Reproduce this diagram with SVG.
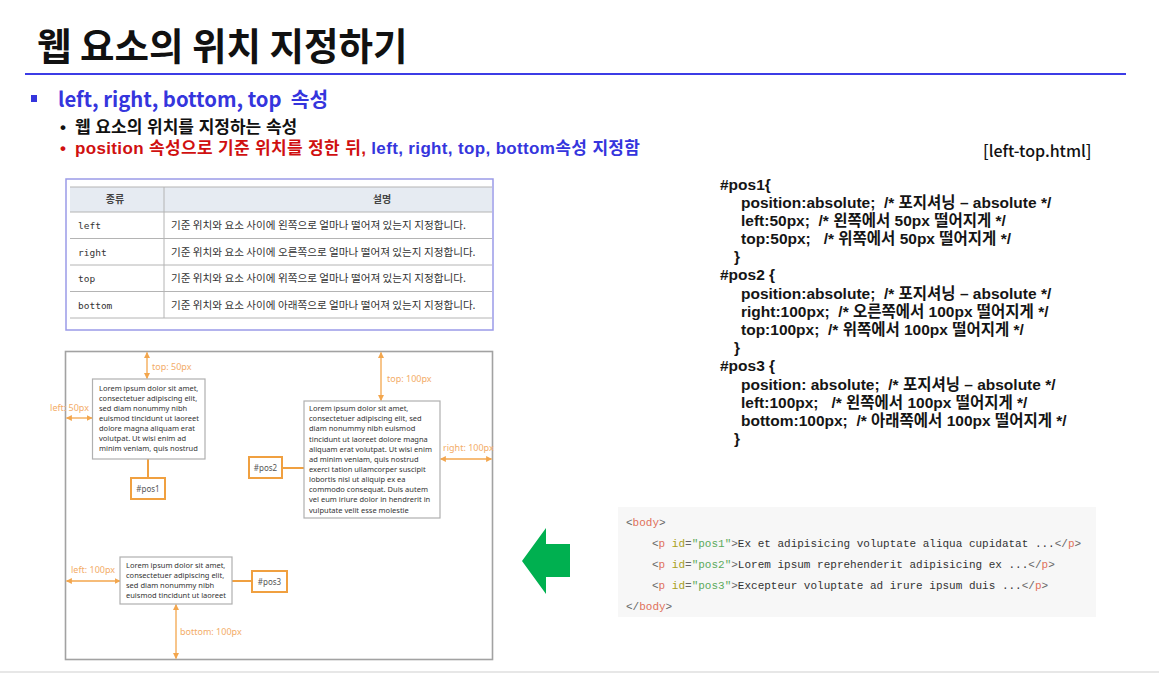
<svg xmlns="http://www.w3.org/2000/svg" width="1159" height="673" viewBox="0 0 1159 673">
  <defs>
    <style>
      .kr { font-family: "Noto Sans CJK KR", "Noto Sans", sans-serif; }
      .title { font-size: 37.5px; font-weight: 700; fill: #111; }
      .h1 { font-size: 20.3px; font-weight: 700; fill: #3535dd; }
      .sub { font-family: "Liberation Sans", "Noto Sans CJK KR", sans-serif; font-size: 17px; font-weight: 700; }
      .css { font-family: "Liberation Sans", "Noto Sans CJK KR", sans-serif; font-size: 15.5px; font-weight: 700; fill: #151515; }
      .th { font-size: 10px; font-weight: 700; fill: #444; }
      .td { font-size: 10.6px; fill: #333; }
      .tm { font-family: "DejaVu Sans Mono", "Liberation Mono", monospace; font-size: 9.5px; fill: #333; }
      .grid { stroke: #b4b4b4; stroke-width: 1; }
      .lorem { font-family: "Noto Sans", "Open Sans", sans-serif; font-size: 7.5px; fill: #333; }
      .box { fill: #fff; stroke: #b0b0b0; stroke-width: 1.2; }
      .idbox { fill: #fff; stroke: #f0a040; stroke-width: 2; }
      .idtxt { font-family: "Noto Sans", sans-serif; font-size: 8px; fill: #555; text-anchor: middle; }
      .dim { stroke: #f3a64d; stroke-width: 1.3; marker-start: url(#ah); marker-end: url(#ah); }
      .link { stroke: #f0a040; stroke-width: 2; fill: none; }
      .dlab { font-family: "Noto Sans", "Open Sans", sans-serif; font-size: 9px; fill: #f3ac68; }
      .code { font-family: "Liberation Mono", "DejaVu Sans Mono", monospace; font-size: 11px; fill: #333; }
      .pun { fill: #666; }
      .tag { fill: #e0705a; }
      .att { fill: #a8a020; }
      .val { fill: #5caa5c; }
    </style>
    <marker id="ah" viewBox="0 0 10 10" refX="9" refY="5" markerWidth="6" markerHeight="6" markerUnits="userSpaceOnUse" orient="auto-start-reverse">
      <path d="M0,0 L10,5 L0,10 z" fill="#f3a64d"/>
    </marker>
  </defs>

  <rect width="1159" height="673" fill="#fff"/>

  <!-- heading -->
  <g id="heading">
    <text class="kr title" x="37" y="60">웹 요소의 위치 지정하기</text>
    <line x1="25" y1="74" x2="1126" y2="74" stroke="#3c3ce6" stroke-width="2"/>
    <rect x="31" y="95" width="6" height="7" fill="#3535dd"/>
    <text class="kr h1" x="58" y="107" xml:space="preserve">left, right, bottom, top  속성</text>
    <text class="sub" x="60" y="133" fill="#111">•</text>
    <text class="sub" x="75" y="133" fill="#111">웹 요소의 위치를 지정하는 속성</text>
    <text class="sub" x="60" y="154" fill="#d01010">•</text>
    <text class="sub" x="75" y="154" letter-spacing="0.35"><tspan fill="#d01010">position 속성으로 기준 위치를 정한 뒤, </tspan><tspan fill="#3535dd">left, right, top, bottom속성 지정함</tspan></text>
    <text class="kr" x="983" y="157" font-size="16" font-weight="500" fill="#111">[left-top.html]</text>
  </g>

  <!-- property table -->
  <g id="prop-table">
    <rect x="66" y="179" width="427" height="151" fill="#fff" stroke="#9a9ae8" stroke-width="1.5"/>
    <rect x="70" y="187" width="422" height="25" fill="#e6ebf2"/>
    <line class="grid" x1="70" y1="187" x2="492" y2="187"/>
    <line class="grid" x1="70" y1="212" x2="492" y2="212"/>
    <line class="grid" x1="70" y1="238.5" x2="492" y2="238.5"/>
    <line class="grid" x1="70" y1="265" x2="492" y2="265"/>
    <line class="grid" x1="70" y1="291.5" x2="492" y2="291.5"/>
    <line class="grid" x1="70" y1="318" x2="492" y2="318"/>
    <line class="grid" x1="164" y1="187" x2="164" y2="318"/>
    <text class="kr th" x="115" y="203" text-anchor="middle">종류</text>
    <text class="kr th" x="382" y="203" text-anchor="middle">설명</text>
    <text class="tm" x="78" y="229">left</text>
    <text class="tm" x="78" y="255.5">right</text>
    <text class="tm" x="78" y="282">top</text>
    <text class="tm" x="78" y="308.5">bottom</text>
    <text class="kr td" x="171" y="229">기준 위치와 요소 사이에 왼쪽으로 얼마나 떨어져 있는지 지정합니다.</text>
    <text class="kr td" x="171" y="255.5">기준 위치와 요소 사이에 오른쪽으로 얼마나 떨어져 있는지 지정합니다.</text>
    <text class="kr td" x="171" y="282">기준 위치와 요소 사이에 위쪽으로 얼마나 떨어져 있는지 지정합니다.</text>
    <text class="kr td" x="171" y="308.5">기준 위치와 요소 사이에 아래쪽으로 얼마나 떨어져 있는지 지정합니다.</text>
  </g>

  <!-- positioning frame -->
  <g id="frame">
    <rect x="65.5" y="351.5" width="427" height="308" fill="#fff" stroke="#a2a2a2" stroke-width="1.6"/>
  </g>

  <!-- connectors and dimension arrows -->
  <g id="connectors">
    <line class="link" x1="148" y1="459" x2="148" y2="478"/>
    <line class="link" x1="282" y1="468" x2="304" y2="468"/>
    <line class="link" x1="232" y1="581" x2="252" y2="581"/>
    <line class="dim" x1="147" y1="352.5" x2="147" y2="378.5"/>
    <line class="dim" x1="66.5" y1="418" x2="92" y2="418"/>
    <line class="dim" x1="381" y1="352.5" x2="381" y2="400.5"/>
    <line class="dim" x1="440.5" y1="459" x2="491.5" y2="459"/>
    <line class="dim" x1="66.5" y1="581" x2="120" y2="581"/>
    <line class="dim" x1="176" y1="604.5" x2="176" y2="658.5"/>
    <text class="dlab" x="152" y="370">top: 50px</text>
    <text class="dlab" x="89" y="411" text-anchor="end">left: 50px</text>
    <text class="dlab" x="387" y="382">top: 100px</text>
    <text class="dlab" x="443" y="451">right: 100px</text>
    <text class="dlab" x="71" y="573">left: 100px</text>
    <text class="dlab" x="180" y="635">bottom: 100px</text>
  </g>

  <g id="pos1-box">
    <rect class="box" x="92.5" y="379" width="112.5" height="80"/>
    <text class="lorem" x="99" y="391">Lorem ipsum dolor sit amet,</text>
    <text class="lorem" x="99" y="401">consectetuer adipiscing elit,</text>
    <text class="lorem" x="99" y="411">sed diam nonummy nibh</text>
    <text class="lorem" x="99" y="421">euismod tincidunt ut laoreet</text>
    <text class="lorem" x="99" y="431">dolore magna aliquam erat</text>
    <text class="lorem" x="99" y="441">volutpat. Ut wisi enim ad</text>
    <text class="lorem" x="99" y="451">minim veniam, quis nostrud</text>
  </g>
  <g id="pos1-label">
    <rect class="idbox" x="131" y="478" width="34" height="21"/>
    <text class="idtxt" x="148" y="491.5">#pos1</text>
  </g>

  <g id="pos2-box">
    <rect class="box" x="304" y="401" width="136" height="117"/>
    <text class="lorem" x="309" y="411">Lorem ipsum dolor sit amet,</text>
    <text class="lorem" x="309" y="421.2">consectetuer adipiscing elit, sed</text>
    <text class="lorem" x="309" y="431.3">diam nonummy nibh euismod</text>
    <text class="lorem" x="309" y="441.5">tincidunt ut laoreet dolore magna</text>
    <text class="lorem" x="309" y="451.6">aliquam erat volutpat. Ut wisi enim</text>
    <text class="lorem" x="309" y="461.8">ad minim veniam, quis nostrud</text>
    <text class="lorem" x="309" y="472">exerci tation ullamcorper suscipit</text>
    <text class="lorem" x="309" y="482.1">lobortis nisl ut aliquip ex ea</text>
    <text class="lorem" x="309" y="492.3">commodo consequat. Duis autem</text>
    <text class="lorem" x="309" y="502.4">vel eum iriure dolor in hendrerit in</text>
    <text class="lorem" x="309" y="512.6">vulputate velit esse molestie</text>
  </g>
  <g id="pos2-label">
    <rect class="idbox" x="249" y="457" width="33" height="21"/>
    <text class="idtxt" x="265.5" y="470.5">#pos2</text>
  </g>

  <g id="pos3-box">
    <rect class="box" x="120" y="557" width="112" height="47"/>
    <text class="lorem" x="126" y="568">Lorem ipsum dolor sit amet,</text>
    <text class="lorem" x="126" y="578">consectetuer adipiscing elit,</text>
    <text class="lorem" x="126" y="588">sed diam nonummy nibh</text>
    <text class="lorem" x="126" y="598">euismod tincidunt ut laoreet</text>
  </g>
  <g id="pos3-label">
    <rect class="idbox" x="252" y="571" width="35" height="21"/>
    <text class="idtxt" x="269.5" y="584.5">#pos3</text>
  </g>

  <!-- green arrow pointing to the frame -->
  <g id="green-arrow">
    <polygon points="522,561 546,528 546,544 570,544 570,577 546,577 546,594" fill="#00b050"/>
  </g>

  <!-- CSS source -->
  <g id="css-code" class="css">
    <text x="720" y="190">#pos1{</text>
    <text x="741" y="208" xml:space="preserve">position:absolute;  /* 포지셔닝 – absolute */</text>
    <text x="741" y="226" xml:space="preserve">left:50px;  /* 왼쪽에서 50px 떨어지게 */</text>
    <text x="741" y="244" xml:space="preserve">top:50px;   /* 위쪽에서 50px 떨어지게 */</text>
    <text x="734" y="262">}</text>
    <text x="720" y="280">#pos2 {</text>
    <text x="741" y="299" xml:space="preserve">position:absolute;  /* 포지셔닝 – absolute */</text>
    <text x="741" y="317" xml:space="preserve">right:100px;  /* 오른쪽에서 100px 떨어지게 */</text>
    <text x="741" y="335" xml:space="preserve">top:100px;  /* 위쪽에서 100px 떨어지게 */</text>
    <text x="734" y="353">}</text>
    <text x="720" y="371">#pos3 {</text>
    <text x="741" y="390" xml:space="preserve">position: absolute;  /* 포지셔닝 – absolute */</text>
    <text x="741" y="408" xml:space="preserve">left:100px;   /* 왼쪽에서 100px 떨어지게 */</text>
    <text x="741" y="426" xml:space="preserve">bottom:100px;  /* 아래쪽에서 100px 떨어지게 */</text>
    <text x="734" y="444">}</text>
  </g>

  <!-- HTML source -->
  <g id="html-code">
    <rect x="618" y="507" width="478" height="110" fill="#f7f7f7"/>
    <text class="code" x="626" y="526"><tspan class="pun">&lt;</tspan><tspan class="tag">body</tspan><tspan class="pun">&gt;</tspan></text>
    <text class="code" x="652" y="547"><tspan class="pun">&lt;</tspan><tspan class="tag">p</tspan> <tspan class="att">id</tspan><tspan class="pun">=</tspan><tspan class="val">"pos1"</tspan><tspan class="pun">&gt;</tspan>Ex et adipisicing voluptate aliqua cupidatat ...<tspan class="pun">&lt;/</tspan><tspan class="tag">p</tspan><tspan class="pun">&gt;</tspan></text>
    <text class="code" x="652" y="568"><tspan class="pun">&lt;</tspan><tspan class="tag">p</tspan> <tspan class="att">id</tspan><tspan class="pun">=</tspan><tspan class="val">"pos2"</tspan><tspan class="pun">&gt;</tspan>Lorem ipsum reprehenderit adipisicing ex ...<tspan class="pun">&lt;/</tspan><tspan class="tag">p</tspan><tspan class="pun">&gt;</tspan></text>
    <text class="code" x="652" y="589"><tspan class="pun">&lt;</tspan><tspan class="tag">p</tspan> <tspan class="att">id</tspan><tspan class="pun">=</tspan><tspan class="val">"pos3"</tspan><tspan class="pun">&gt;</tspan>Excepteur voluptate ad irure ipsum duis ...<tspan class="pun">&lt;/</tspan><tspan class="tag">p</tspan><tspan class="pun">&gt;</tspan></text>
    <text class="code" x="626" y="610"><tspan class="pun">&lt;/</tspan><tspan class="tag">body</tspan><tspan class="pun">&gt;</tspan></text>
  </g>

  <line x1="0" y1="672" x2="1159" y2="672" stroke="#d0d0d0" stroke-width="1.2"/>
</svg>
